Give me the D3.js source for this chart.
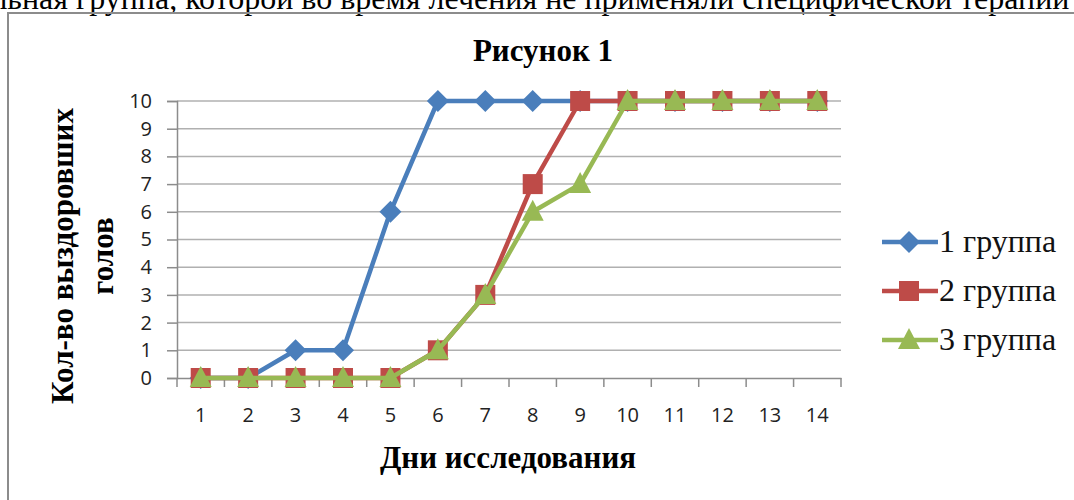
<!DOCTYPE html>
<html>
<head>
<meta charset="utf-8">
<script src="https://cdn.jsdelivr.net/npm/d3@7"></script>
<style>
  body { margin: 0; background: #fff; }
  svg { display: block; }
  .serif { font-family: "Liberation Serif", "Times New Roman", serif; }
  .sans { font-family: "Open Sans", "Noto Sans", sans-serif; }
</style>
</head>
<body>
<svg width="1074" height="500"></svg>
<script>
// data
var days = ["1", "2", "3", "4", "5", "6", "7", "8", "9", "10", "11", "12", "13", "14"];
var group1 = [0, 0, 1, 1, 6, 10, 10, 10, 10, 10, 10, 10, 10, 10];
var group2 = [0, 0, 0, 0, 0, 1, 3, 7, 10, 10, 10, 10, 10, 10];
var group3 = [0, 0, 0, 0, 0, 1, 3, 6, 7, 10, 10, 10, 10, 10];
var seriesNames = ["1 группа", "2 группа", "3 группа"];
var yTicks = [0, 1, 2, 3, 4, 5, 6, 7, 8, 9, 10];

var series = [
    { name: seriesNames[0], values: group1, color: "#4a7ebb", marker: "diamond" },
    { name: seriesNames[1], values: group2, color: "#be4b48", marker: "square" },
    { name: seriesNames[2], values: group3, color: "#98b954", marker: "triangle" }
];

var svg = d3.select("svg");

// cut-off line of document text above the chart
var pre = svg.append("text").attr("class", "serif").attr("font-size", 32)
    .text("Контрольная ");
var preW = pre.node().getComputedTextLength();
pre.remove();
svg.append("text")
    .attr("class", "serif")
    .attr("x", 68 - preW)
    .attr("y", 9)
    .attr("font-size", 32)
    .text("Контрольная группа, которой во время лечения не применяли специфической терапии");

// chart frame
svg.append("rect")
    .attr("x", 8).attr("y", 13)
    .attr("width", 1100).attr("height", 520)
    .attr("fill", "none")
    .attr("stroke", "#8c8c8c")
    .attr("stroke-width", 2);

var x = d3.scaleBand().domain(days).range([177, 841]);
var y = d3.scaleLinear().domain([0, 10]).range([378, 101]);
var cx = function (d) { return x(d) + x.bandwidth() / 2; };

// gridlines
svg.append("g")
    .selectAll("line")
    .data(yTicks.filter(function (d) { return d > 0; }))
    .enter().append("line")
    .attr("x1", 177).attr("x2", 841)
    .attr("y1", function (d) { return y(d); })
    .attr("y2", function (d) { return y(d); })
    .attr("stroke", "#b0b0b0")
    .attr("stroke-width", 1.5);

// y axis
var yAxis = svg.append("g")
    .attr("transform", "translate(177,0)")
    .call(d3.axisLeft(y).tickValues(yTicks).tickSize(10).tickPadding(15));
yAxis.select(".domain").attr("stroke", "#8c8c8c").attr("stroke-width", 1.5);
yAxis.selectAll(".tick line").attr("stroke", "#8c8c8c").attr("stroke-width", 1.5);
yAxis.selectAll(".tick text")
    .attr("class", "sans")
    .attr("font-size", 20)
    .attr("fill", "#222");

// x axis: labels at category centres, ticks at category boundaries
var xAxis = svg.append("g")
    .attr("transform", "translate(0,378)")
    .call(d3.axisBottom(x).tickSize(0).tickPadding(30));
xAxis.select(".domain").attr("stroke", "#8c8c8c").attr("stroke-width", 1.5);
xAxis.selectAll(".tick text")
    .attr("class", "sans")
    .attr("font-size", 20)
    .attr("fill", "#222");
var bounds = days.map(function (d) { return x(d); }).concat([x.range()[1]]);
xAxis.selectAll(".bound")
    .data(bounds)
    .enter().append("line")
    .attr("class", "bound")
    .attr("x1", function (d) { return d; })
    .attr("x2", function (d) { return d; })
    .attr("y1", 0).attr("y2", 9)
    .attr("stroke", "#8c8c8c")
    .attr("stroke-width", 1.5);

// markers
function drawMarker(sel, s) {
    if (s.marker === "square") {
        sel.append("rect")
            .attr("x", -10).attr("y", -10).attr("width", 20).attr("height", 20)
            .attr("fill", s.color);
    } else if (s.marker === "diamond") {
        sel.append("path").attr("d", "M0,-11L11,0L0,11L-11,0Z").attr("fill", s.color);
    } else {
        sel.append("path").attr("d", "M0,-12L11,9L-11,9Z").attr("fill", s.color);
    }
}

var line = d3.line()
    .x(function (d, i) { return cx(days[i]); })
    .y(function (d) { return y(d); });

series.forEach(function (s) {
    svg.append("path")
        .datum(s.values)
        .attr("d", line)
        .attr("fill", "none")
        .attr("stroke", s.color)
        .attr("stroke-width", 4.5)
        .attr("stroke-linejoin", "round");
    var g = svg.append("g");
    s.values.forEach(function (v, i) {
        var m = g.append("g").attr("transform", "translate(" + cx(days[i]) + "," + y(v) + ")");
        drawMarker(m, s);
    });
});

// legend
var legend = svg.append("g").attr("transform", "translate(882,242)");
series.forEach(function (s, i) {
    var row = legend.append("g").attr("transform", "translate(0," + (i * 49) + ")");
    row.append("line")
        .attr("x1", 0).attr("x2", 56)
        .attr("stroke", s.color).attr("stroke-width", 4.5);
    var m = row.append("g").attr("transform", "translate(27,0)");
    drawMarker(m, s);
    row.append("text")
        .attr("class", "serif")
        .attr("x", 57).attr("y", 10)
        .attr("font-size", 32)
        .attr("fill", "#111")
        .text(s.name);
});

// titles
svg.append("text")
    .attr("class", "serif")
    .attr("x", 543).attr("y", 61)
    .attr("text-anchor", "middle")
    .attr("font-weight", "bold")
    .attr("font-size", 31)
    .text("Рисунок 1");

svg.append("text")
    .attr("class", "serif")
    .attr("x", 508).attr("y", 468)
    .attr("text-anchor", "middle")
    .attr("font-weight", "bold")
    .attr("font-size", 31)
    .text("Дни исследования");

var yt = svg.append("text")
    .attr("class", "serif")
    .attr("transform", "translate(0,256) rotate(-90)")
    .attr("text-anchor", "middle")
    .attr("font-weight", "bold")
    .attr("font-size", 31);
yt.append("tspan").attr("x", 0).attr("y", 73).text("Кол-во выздоровших");
yt.append("tspan").attr("x", 0).attr("y", 113).text("голов");
</script>
</body>
</html>
